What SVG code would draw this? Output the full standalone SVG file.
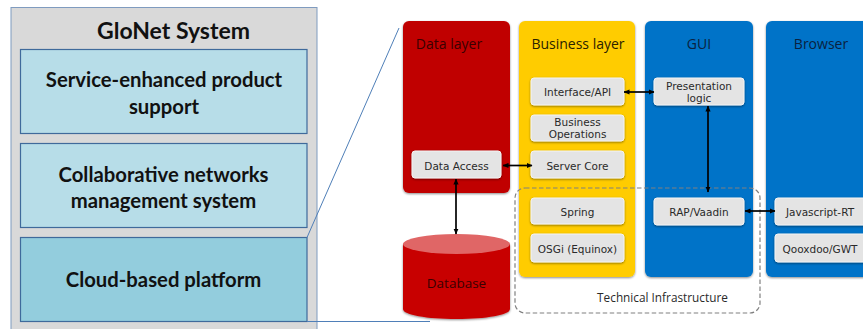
<svg xmlns="http://www.w3.org/2000/svg" width="863" height="329" viewBox="0 0 863 329">
<defs>
<filter id="sh" x="-10%" y="-10%" width="120%" height="130%"><feDropShadow dx="0" dy="1" stdDeviation="1" flood-color="#000" flood-opacity="0.45"/></filter>
<marker id="a" viewBox="0 0 6 6" refX="5.5" refY="3" markerWidth="6" markerHeight="6" orient="auto-start-reverse" markerUnits="userSpaceOnUse"><path d="M0 0.4L6 3L0 5.6z" fill="#000"/></marker>
</defs>
<style>
.sys{fill:#d9d9d9;stroke:#7f9bbf;stroke-width:1}
.mod{fill:#b7dde8;stroke:#3f6a9b;stroke-width:1.2}
.modd{fill:#93cddd;stroke:#3f6a9b;stroke-width:1.2}
.t{font-family:"Lato","Carlito","Liberation Sans",sans-serif;font-weight:700;fill:#111;text-anchor:middle;font-size:20.3px}
.l{font-family:"Open Sans","Liberation Sans",sans-serif;fill:#222;text-anchor:middle;font-size:14px}
.b{fill:#e4e4e4;stroke:#f4f4f4;stroke-width:1;filter:url(#sh)}
.s{font-family:"DejaVu Sans","Liberation Sans",sans-serif;fill:#2a2a2a;text-anchor:middle;font-size:10.5px}
.c{fill:none;stroke:#000;stroke-width:1.7;marker-start:url(#a);marker-end:url(#a)}
.z{fill:none;stroke:#4f7fb8;stroke-width:1}
</style>
<g id="glonet-system">
<rect class="sys" x="11" y="7.500" width="306" height="330"/>
<text class="t" x="173.500" y="39" style="font-size:23px">GloNet System</text>
</g>
<g id="service-support">
<rect class="mod" x="20.500" y="49.500" width="286.500" height="84"/>
<text class="t" x="164" y="87">Service-enhanced product</text>
<text class="t" x="164" y="114">support</text>
</g>
<g id="collaborative">
<rect class="mod" x="20.500" y="143.500" width="286.500" height="84"/>
<text class="t" x="163.500" y="182">Collaborative networks</text>
<text class="t" x="163.500" y="208">management system</text>
</g>
<g id="cloud-platform">
<rect class="modd" x="20.500" y="237.500" width="286.500" height="84"/>
<text class="t" x="163.500" y="287">Cloud-based platform</text>
</g>
<g id="data-layer">
<rect x="403" y="21" width="107" height="172" rx="6" fill="#c00000" filter="url(#sh)"/>
<text class="l" x="449" y="49" style="fill:#3a0000">Data layer</text>
</g>
<g id="business-layer">
<rect x="519" y="21" width="116" height="256" rx="6" fill="#ffcc00" filter="url(#sh)"/>
<text class="l" x="578" y="49" style="fill:#2a2200">Business layer</text>
</g>
<g id="gui">
<rect x="645" y="21" width="108" height="256" rx="6" fill="#0673c8" filter="url(#sh)"/>
<text class="l" x="699" y="49" style="fill:#0a2240">GUI</text>
</g>
<g id="browser">
<rect x="766" y="21" width="110" height="256" rx="6" fill="#0673c8" filter="url(#sh)"/>
<text class="l" x="821" y="49" style="fill:#0a2240">Browser</text>
</g>
<g id="database">
<path d="M403 244V309C403 315 427 319 456.500 319S510 315 510 309V244z" fill="#c80000" filter="url(#sh)"/>
<ellipse cx="456.500" cy="244" rx="53.500" ry="10" fill="#e06666"/>
<text class="l" x="456.500" y="288" style="fill:#3a0000;font-size:13.500px">Database</text>
</g>
<g id="data-access"><rect class="b" x="412" y="151" width="89" height="27" rx="3"/><text class="s" x="456.500" y="170">Data Access</text></g>
<g id="interface-api"><rect class="b" x="531" y="78" width="93" height="27" rx="3"/><text class="s" x="577.500" y="96">Interface/API</text></g>
<g id="business-operations"><rect class="b" x="531" y="115" width="93" height="26" rx="3"/><text class="s" x="577.500" y="126">Business</text><text class="s" x="577.500" y="138">Operations</text></g>
<g id="server-core"><rect class="b" x="531" y="151" width="93" height="27" rx="3"/><text class="s" x="577.500" y="170">Server Core</text></g>
<g id="spring"><rect class="b" x="531" y="198" width="93" height="26" rx="3"/><text class="s" x="577.500" y="216">Spring</text></g>
<g id="osgi"><rect class="b" x="531" y="234" width="93" height="28" rx="3"/><text class="s" x="577.500" y="253">OSGi (Equinox)</text></g>
<g id="presentation-logic"><rect class="b" x="654" y="78" width="90" height="27" rx="3"/><text class="s" x="699" y="90">Presentation</text><text class="s" x="699" y="102">logic</text></g>
<g id="rap-vaadin"><rect class="b" x="654" y="198" width="90" height="27" rx="3"/><text class="s" x="699" y="216">RAP/Vaadin</text></g>
<g id="javascript-rt"><rect class="b" x="775" y="198" width="92" height="27" rx="3"/><text class="s" x="820" y="216">Javascript-RT</text></g>
<g id="qooxdoo-gwt"><rect class="b" x="775" y="234" width="92" height="28" rx="3"/><text class="s" x="820" y="253">Qooxdoo/GWT</text></g>
<g id="technical-infrastructure">
<rect x="515" y="188" width="245" height="125" rx="10" fill="none" stroke="#808080" stroke-width="1.2" stroke-dasharray="4.500 2.500"/>
<text class="s" x="662.500" y="302" style="font-size:11.800px;font-family:'Open Sans','Liberation Sans',sans-serif">Technical Infrastructure</text>
</g>
<g id="connectors">
<path class="z" d="M307 237.500L399 28"/>
<path class="z" d="M307 321.500H430"/>
<path class="c" d="M503 165.500H532"/>
<path class="c" d="M456 179V234"/>
<path class="c" d="M624 92H654"/>
<path class="c" d="M708 106V192"/>
<path class="c" d="M745 211H775"/>
</g>
</svg>
